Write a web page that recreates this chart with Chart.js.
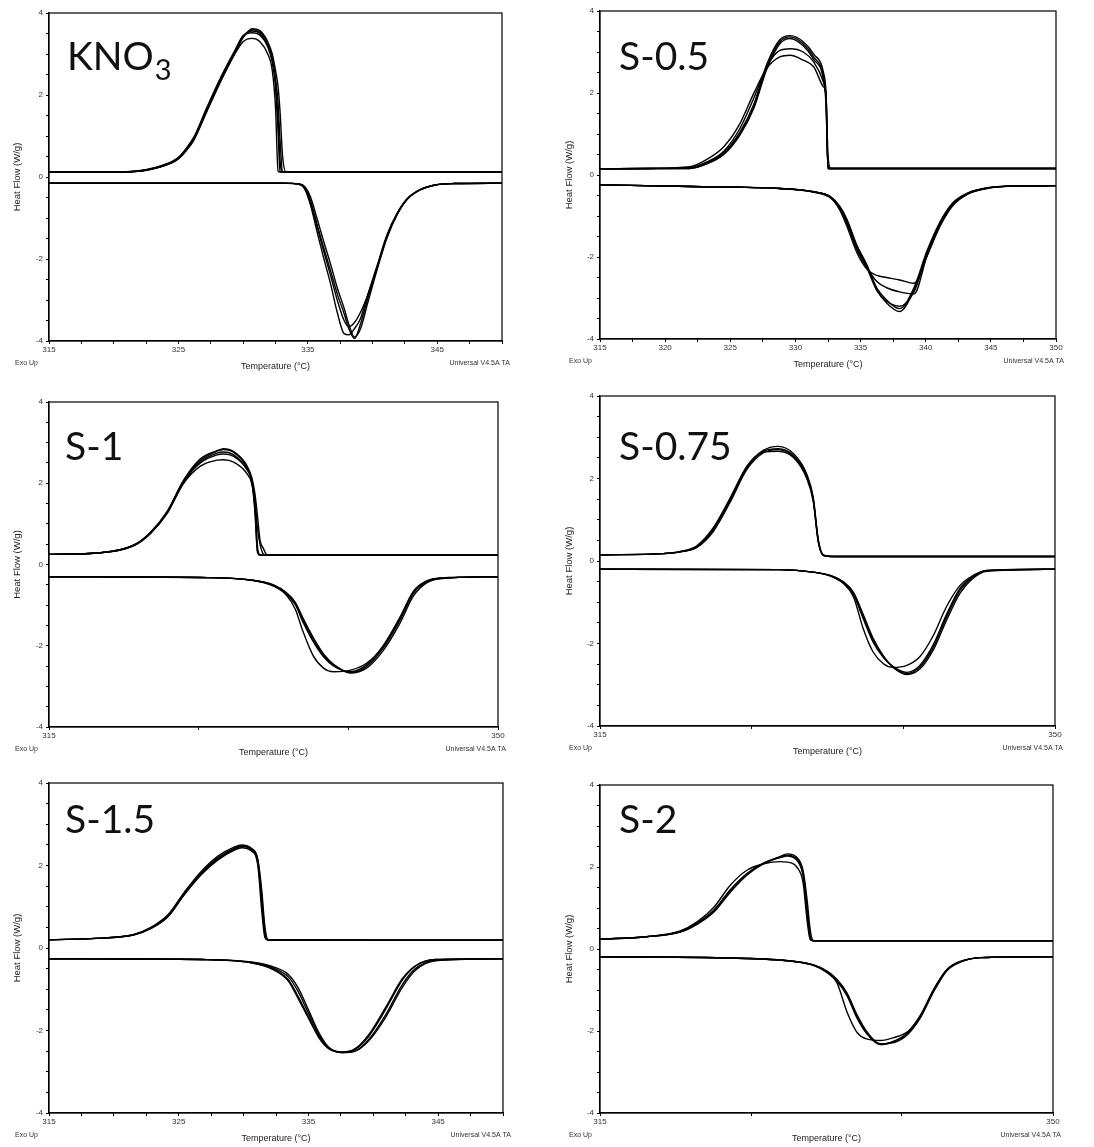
<!DOCTYPE html>
<html>
<head>
<meta charset="utf-8">
<title>DSC ciclos térmicos</title>
<script src="https://cdn.jsdelivr.net/npm/chart.js@4.4.1/dist/chart.umd.min.js"></script>
<style>
  body { margin: 0; background: #fff; }
  #grid { position: relative; width: 1094px; height: 1147px; }
  #grid canvas { position: absolute; }
</style>
</head>
<body>
<div id="grid"></div>
<script>
// Temperaturas (°C) y flujo de calor (W/g) de cada ciclo. Exo = enfriamiento, Endo = calentamiento.

// KNO3
const kno3ExoT = [315, 320, 322.3, 323.6, 324.4, 325, 325.6, 326.2, 327.2, 328.25, 329.3, 330, 330.7, 331.3, 331.9, 332.25, 332.5, 332.7, 332.85, 333.05, 333.3, 340, 350];
const kno3Exo = [
    [0.12, 0.12, 0.16, 0.25, 0.34, 0.45, 0.66, 0.93, 1.63, 2.36, 3.0, 3.41, 3.59, 3.54, 3.22, 2.85, 2.2, 1.1, 0.14, 0.12, 0.12, 0.12, 0.12],
    [0.12, 0.12, 0.17, 0.27, 0.36, 0.48, 0.7, 0.98, 1.7, 2.42, 3.05, 3.44, 3.56, 3.5, 3.2, 2.9, 2.4, 1.8, 0.9, 0.13, 0.12, 0.12, 0.12],
    [0.12, 0.12, 0.16, 0.26, 0.35, 0.47, 0.68, 0.95, 1.66, 2.35, 2.97, 3.3, 3.38, 3.3, 3.0, 2.6, 1.7, 0.14, 0.12, 0.12, 0.12, 0.12, 0.12],
    [0.12, 0.12, 0.15, 0.24, 0.33, 0.44, 0.64, 0.9, 1.6, 2.32, 2.98, 3.4, 3.62, 3.57, 3.3, 3.0, 2.6, 2.2, 1.6, 0.5, 0.13, 0.12, 0.12],
    [0.12, 0.12, 0.16, 0.25, 0.34, 0.46, 0.67, 0.94, 1.65, 2.38, 3.02, 3.45, 3.52, 3.46, 3.18, 2.8, 2.3, 1.4, 0.4, 0.13, 0.12, 0.12, 0.12]
];
const kno3EndoT = [315, 325, 333, 334.4, 334.8, 335.2, 335.7, 336.2, 336.75, 337.27, 337.8, 338.17, 338.6, 339.07, 339.6, 340.36, 341.1, 341.9, 342.7, 343.7, 344.74, 346.3, 350];
const kno3Endo = [
    [-0.15, -0.15, -0.15, -0.18, -0.28, -0.57, -1.14, -1.7, -2.28, -2.85, -3.33, -3.7, -3.94, -3.58, -3.0, -2.2, -1.46, -0.9, -0.53, -0.31, -0.2, -0.16, -0.15],
    [-0.15, -0.15, -0.15, -0.17, -0.25, -0.48, -1.0, -1.55, -2.12, -2.7, -3.2, -3.6, -3.9, -3.7, -3.1, -2.25, -1.5, -0.92, -0.54, -0.31, -0.2, -0.16, -0.15],
    [-0.15, -0.15, -0.15, -0.19, -0.32, -0.68, -1.32, -1.95, -2.6, -3.3, -3.82, -3.85, -3.7, -3.45, -2.9, -2.15, -1.42, -0.88, -0.52, -0.3, -0.2, -0.16, -0.15],
    [-0.15, -0.15, -0.15, -0.18, -0.3, -0.62, -1.2, -1.78, -2.4, -3.0, -3.5, -3.65, -3.55, -3.3, -2.9, -2.2, -1.45, -0.9, -0.53, -0.31, -0.2, -0.16, -0.15]
];

// S-0.5
const s05ExoT = [315, 319, 321.9, 323.2, 324.5, 325.75, 326.8, 327.8, 328.8, 329.6, 330.6, 331.4, 332.15, 332.35, 332.5, 332.7, 340, 350];
const s05Exo = [
    [0.15, 0.16, 0.16, 0.28, 0.51, 1.01, 1.66, 2.64, 3.25, 3.37, 3.2, 2.88, 2.39, 1.83, 0.16, 0.16, 0.16, 0.16],
    [0.15, 0.16, 0.17, 0.3, 0.54, 1.05, 1.72, 2.7, 3.3, 3.4, 3.25, 2.95, 2.5, 2.0, 0.5, 0.16, 0.16, 0.16],
    [0.15, 0.16, 0.16, 0.27, 0.5, 0.98, 1.62, 2.58, 3.2, 3.33, 3.15, 2.82, 2.32, 1.7, 0.16, 0.16, 0.16, 0.16],
    [0.15, 0.16, 0.2, 0.38, 0.69, 1.26, 1.99, 2.6, 2.88, 2.92, 2.8, 2.64, 2.15, 1.95, 0.16, 0.16, 0.16, 0.16],
    [0.15, 0.16, 0.18, 0.32, 0.58, 1.14, 1.87, 2.64, 3.04, 3.08, 3.0, 2.76, 2.27, 1.9, 0.16, 0.16, 0.16, 0.16]
];
const s05EndoT = [315, 322, 328.8, 331.4, 332.7, 333.4, 333.95, 334.7, 335.5, 336.25, 337, 338, 339.1, 340.1, 341.1, 342.1, 343.2, 344.7, 346.75, 350];
const s05Endo = [
    [-0.24, -0.28, -0.33, -0.41, -0.53, -0.77, -1.1, -1.74, -2.23, -2.8, -3.12, -3.33, -2.8, -1.9, -1.18, -0.69, -0.45, -0.32, -0.27, -0.26],
    [-0.24, -0.28, -0.33, -0.41, -0.54, -0.8, -1.15, -1.8, -2.28, -2.82, -3.08, -3.2, -2.85, -1.95, -1.22, -0.72, -0.46, -0.32, -0.27, -0.26],
    [-0.24, -0.28, -0.33, -0.41, -0.53, -0.76, -1.08, -1.7, -2.2, -2.76, -3.05, -3.26, -2.75, -1.85, -1.14, -0.67, -0.44, -0.31, -0.27, -0.26],
    [-0.24, -0.28, -0.33, -0.42, -0.56, -0.85, -1.25, -1.88, -2.3, -2.45, -2.5, -2.56, -2.64, -1.98, -1.25, -0.74, -0.47, -0.33, -0.27, -0.26],
    [-0.24, -0.28, -0.33, -0.41, -0.55, -0.82, -1.18, -1.8, -2.26, -2.6, -2.75, -2.85, -2.9, -1.97, -1.23, -0.72, -0.46, -0.32, -0.27, -0.26]
];

// S-1
const s1ExoT = [315, 319, 321.6, 322.9, 324.2, 325.5, 326.8, 328.1, 328.6, 329.4, 330.4, 330.8, 331.05, 331.25, 331.45, 331.7, 332, 340, 350];
const s1Exo = [
    [0.25, 0.29, 0.47, 0.78, 1.28, 2.07, 2.56, 2.79, 2.83, 2.76, 2.4, 2.05, 1.3, 0.3, 0.23, 0.23, 0.23, 0.23, 0.23],
    [0.25, 0.29, 0.46, 0.76, 1.25, 2.03, 2.52, 2.74, 2.77, 2.7, 2.36, 2.1, 1.6, 0.9, 0.5, 0.26, 0.23, 0.23, 0.23],
    [0.25, 0.29, 0.47, 0.77, 1.27, 2.0, 2.42, 2.57, 2.58, 2.52, 2.25, 2.0, 1.5, 0.45, 0.24, 0.23, 0.23, 0.23, 0.23],
    [0.25, 0.29, 0.48, 0.79, 1.3, 2.08, 2.6, 2.8, 2.85, 2.78, 2.45, 2.15, 1.75, 1.2, 0.6, 0.4, 0.24, 0.23, 0.23],
    [0.25, 0.29, 0.47, 0.77, 1.29, 2.05, 2.5, 2.7, 2.72, 2.66, 2.35, 2.05, 1.4, 0.35, 0.23, 0.23, 0.23, 0.23, 0.23]
];
const s1EndoT = [315, 326.8, 330.7, 332.5, 333.5, 334.2, 334.8, 335.6, 336.4, 337.2, 338.5, 339.75, 341.05, 342.35, 343.4, 344.4, 345.5, 350];
const s1Endo = [
    [-0.3, -0.32, -0.38, -0.51, -0.71, -0.96, -1.37, -1.86, -2.23, -2.47, -2.66, -2.51, -2.06, -1.37, -0.71, -0.43, -0.34, -0.3],
    [-0.3, -0.32, -0.38, -0.5, -0.69, -0.93, -1.32, -1.8, -2.2, -2.46, -2.67, -2.55, -2.12, -1.45, -0.78, -0.46, -0.35, -0.3],
    [-0.3, -0.32, -0.38, -0.52, -0.73, -0.99, -1.42, -1.9, -2.27, -2.5, -2.64, -2.47, -2.0, -1.3, -0.66, -0.41, -0.33, -0.3],
    [-0.3, -0.32, -0.38, -0.53, -0.75, -1.1, -1.65, -2.25, -2.55, -2.64, -2.6, -2.43, -2.02, -1.35, -0.7, -0.43, -0.34, -0.3]
];

// S-0.75
const s075ExoT = [315, 319.9, 321.15, 322.45, 323.7, 325, 326.3, 327.55, 328.7, 329.9, 330.9, 331.4, 331.8, 332.2, 333, 340, 350];
const s075Exo = [
    [0.15, 0.18, 0.22, 0.34, 0.74, 1.47, 2.28, 2.68, 2.78, 2.6, 2.11, 1.55, 0.5, 0.14, 0.11, 0.11, 0.11],
    [0.15, 0.18, 0.23, 0.37, 0.8, 1.52, 2.3, 2.66, 2.72, 2.55, 2.06, 1.5, 0.45, 0.13, 0.11, 0.11, 0.11],
    [0.15, 0.18, 0.22, 0.33, 0.71, 1.42, 2.22, 2.62, 2.7, 2.52, 2.05, 1.5, 0.48, 0.14, 0.11, 0.11, 0.11],
    [0.15, 0.18, 0.22, 0.35, 0.76, 1.48, 2.26, 2.64, 2.66, 2.5, 2.0, 1.45, 0.45, 0.13, 0.11, 0.11, 0.11]
];
const s075EndoT = [315, 328.85, 331.4, 332.7, 333.7, 334.5, 335.25, 336, 336.8, 337.55, 338.6, 339.6, 340.65, 341.65, 342.7, 343.7, 344.75, 350];
const s075Endo = [
    [-0.2, -0.21, -0.27, -0.35, -0.51, -0.79, -1.36, -1.92, -2.32, -2.57, -2.73, -2.57, -2.08, -1.36, -0.71, -0.39, -0.24, -0.2],
    [-0.2, -0.21, -0.27, -0.35, -0.5, -0.76, -1.3, -1.87, -2.3, -2.58, -2.75, -2.62, -2.15, -1.44, -0.78, -0.42, -0.25, -0.2],
    [-0.2, -0.21, -0.27, -0.36, -0.52, -0.81, -1.4, -1.96, -2.34, -2.56, -2.7, -2.53, -2.02, -1.3, -0.66, -0.37, -0.23, -0.2],
    [-0.2, -0.21, -0.27, -0.36, -0.54, -0.87, -1.64, -2.2, -2.49, -2.58, -2.53, -2.32, -1.8, -1.11, -0.59, -0.35, -0.23, -0.2]
];

// S-1.5
const s15ExoT = [315, 319, 321.55, 322.85, 324.15, 325.45, 326.75, 328, 329.3, 329.85, 330.6, 331.1, 331.4, 331.65, 331.9, 340, 350];
const s15Exo = [
    [0.2, 0.24, 0.32, 0.48, 0.77, 1.33, 1.82, 2.18, 2.42, 2.48, 2.38, 2.06, 1.09, 0.32, 0.19, 0.19, 0.19],
    [0.2, 0.24, 0.33, 0.5, 0.8, 1.36, 1.86, 2.22, 2.45, 2.5, 2.42, 2.15, 1.4, 0.5, 0.2, 0.19, 0.19],
    [0.2, 0.24, 0.32, 0.47, 0.75, 1.3, 1.78, 2.13, 2.37, 2.43, 2.35, 2.0, 0.9, 0.25, 0.19, 0.19, 0.19],
    [0.2, 0.24, 0.32, 0.48, 0.76, 1.31, 1.8, 2.16, 2.4, 2.46, 2.4, 2.12, 1.25, 0.4, 0.19, 0.19, 0.19]
];
const s15EndoT = [315, 326.75, 330.6, 332.4, 333.45, 334.2, 335, 335.8, 336.55, 337.6, 338.6, 339.65, 340.95, 342.25, 343.25, 344.8, 350];
const s15Endo = [
    [-0.26, -0.28, -0.36, -0.53, -0.77, -1.17, -1.66, -2.14, -2.42, -2.53, -2.46, -2.14, -1.49, -0.77, -0.44, -0.28, -0.26],
    [-0.26, -0.28, -0.35, -0.5, -0.7, -1.05, -1.58, -2.1, -2.42, -2.54, -2.5, -2.22, -1.62, -0.88, -0.5, -0.3, -0.26],
    [-0.26, -0.28, -0.34, -0.47, -0.64, -0.96, -1.5, -2.05, -2.4, -2.53, -2.5, -2.25, -1.68, -0.95, -0.54, -0.31, -0.26],
    [-0.26, -0.28, -0.36, -0.54, -0.8, -1.22, -1.7, -2.17, -2.44, -2.52, -2.44, -2.1, -1.44, -0.74, -0.43, -0.28, -0.26]
];

// S-2
const s2ExoT = [315, 318.6, 321.2, 322.5, 323.8, 325.05, 326.35, 327.65, 328.95, 329.45, 330.2, 330.7, 331, 331.25, 331.5, 340, 350];
const s2Exo = [
    [0.24, 0.3, 0.42, 0.63, 0.95, 1.44, 1.84, 2.09, 2.23, 2.27, 2.17, 1.76, 0.87, 0.26, 0.2, 0.2, 0.2],
    [0.24, 0.3, 0.41, 0.6, 0.9, 1.38, 1.8, 2.08, 2.26, 2.32, 2.24, 1.9, 1.2, 0.45, 0.2, 0.2, 0.2],
    [0.24, 0.3, 0.42, 0.62, 0.93, 1.42, 1.83, 2.1, 2.25, 2.29, 2.2, 1.82, 1.0, 0.3, 0.2, 0.2, 0.2],
    [0.24, 0.3, 0.44, 0.66, 1.02, 1.55, 1.92, 2.08, 2.13, 2.12, 2.0, 1.6, 0.7, 0.22, 0.2, 0.2, 0.2]
];
const s2EndoT = [315, 326.35, 330.2, 331.5, 332.55, 333.3, 334.1, 334.85, 335.65, 336.65, 337.7, 338.75, 339.75, 340.8, 341.8, 342.85, 344.4, 350];
const s2Endo = [
    [-0.19, -0.23, -0.31, -0.39, -0.55, -0.76, -1.12, -1.65, -2.06, -2.32, -2.26, -2.06, -1.65, -1.0, -0.51, -0.31, -0.21, -0.19],
    [-0.19, -0.23, -0.31, -0.39, -0.54, -0.74, -1.08, -1.6, -2.03, -2.31, -2.28, -2.09, -1.68, -1.03, -0.53, -0.32, -0.21, -0.19],
    [-0.19, -0.23, -0.31, -0.4, -0.56, -0.78, -1.15, -1.68, -2.08, -2.33, -2.25, -2.04, -1.62, -0.97, -0.5, -0.3, -0.21, -0.19],
    [-0.19, -0.23, -0.31, -0.4, -0.58, -0.82, -1.55, -2.03, -2.2, -2.23, -2.16, -2.02, -1.63, -0.99, -0.51, -0.31, -0.21, -0.19]
];

// caja del canvas y área de trazado (px de página) de cada panel
const paneles = [
    { nombre: 'KNO', sub: '3', exoT: kno3ExoT, exo: kno3Exo, endoT: kno3EndoT, endo: kno3Endo, ejeX: 'cada10',
      caja: { x: 0, y: 0, w: 547, h: 380 }, area: { l: 49, t: 13, r: 502, b: 341 }, etq: { dx: 18, dy: 57 } },
    { nombre: 'S-0.5', exoT: s05ExoT, exo: s05Exo, endoT: s05EndoT, endo: s05Endo, ejeX: 'cada5',
      caja: { x: 547, y: 0, w: 547, h: 380 }, area: { l: 600, t: 11, r: 1056, b: 339 }, etq: { dx: 19, dy: 59 } },
    { nombre: 'S-1', exoT: s1ExoT, exo: s1Exo, endoT: s1EndoT, endo: s1Endo, ejeX: 'tercios',
      caja: { x: 0, y: 380, w: 547, h: 390 }, area: { l: 49, t: 402, r: 498, b: 727 }, etq: { dx: 16, dy: 58 } },
    { nombre: 'S-0.75', exoT: s075ExoT, exo: s075Exo, endoT: s075EndoT, endo: s075Endo, ejeX: 'tercios',
      caja: { x: 547, y: 380, w: 547, h: 390 }, area: { l: 600, t: 396, r: 1055, b: 726 }, etq: { dx: 19, dy: 64 } },
    { nombre: 'S-1.5', exoT: s15ExoT, exo: s15Exo, endoT: s15EndoT, endo: s15Endo, ejeX: 'cada10',
      caja: { x: 0, y: 770, w: 547, h: 377 }, area: { l: 49, t: 783, r: 503, b: 1113 }, etq: { dx: 16, dy: 50 } },
    { nombre: 'S-2', exoT: s2ExoT, exo: s2Exo, endoT: s2EndoT, endo: s2Endo, ejeX: 'tercios',
      caja: { x: 547, y: 770, w: 547, h: 377 }, area: { l: 600, t: 785, r: 1053, b: 1113 }, etq: { dx: 19, dy: 48 } }
];

const FUENTE = '"Liberation Sans", Arial, sans-serif';

// marco, pies de página y nombre de la muestra
const marcoPlugin = {
    id: 'marco',
    afterDraw(chart, args, opts) {
        const { ctx, chartArea: a } = chart;
        ctx.save();
        ctx.strokeStyle = '#000';
        ctx.lineWidth = 1.2;
        ctx.strokeRect(a.left, a.top, a.right - a.left, a.bottom - a.top);

        ctx.fillStyle = '#333';
        ctx.font = '7px ' + FUENTE;
        ctx.textBaseline = 'middle';
        ctx.textAlign = 'left';
        ctx.fillText('Exo Up', opts.exoX, a.bottom + 22);
        ctx.textAlign = 'right';
        ctx.fillText('Universal V4.5A TA', a.right + 8, a.bottom + 22);

        ctx.fillStyle = '#111';
        ctx.textAlign = 'left';
        ctx.textBaseline = 'alphabetic';
        ctx.font = '39px Lato, "Open Sans", sans-serif';
        const x = a.left + opts.dx, y = a.top + opts.dy;
        ctx.fillText(opts.nombre, x, y);
        if (opts.sub) {
            const w = ctx.measureText(opts.nombre).width;
            ctx.font = '29px Lato, "Open Sans", sans-serif';
            ctx.fillText(opts.sub, x + w + 1, y + 10);
        }
        ctx.restore();
    }
};

function curvas(temps, ciclos) {
    return ciclos.map(vals => ({
        data: temps.map((t, i) => ({ x: t, y: vals[i] })),
        borderColor: '#000',
        borderWidth: 1.4,
        pointRadius: 0,
        cubicInterpolationMode: 'monotone',
        fill: false
    }));
}

function configEjeX(modo, alto, padTitulo) {
    const eje = {
        type: 'linear',
        min: 315,
        max: 350,
        afterFit: s => { s.height = alto; },
        grid: { drawOnChartArea: false, tickLength: 3, color: '#000' },
        border: { color: '#000', width: 1.2 },
        ticks: { autoSkip: false, maxRotation: 0, padding: 1, color: '#333', font: { family: FUENTE, size: 8 } },
        title: { display: true, text: 'Temperature (°C)', color: '#222',
                 font: { family: FUENTE, size: 9, lineHeight: 1 }, padding: { top: 0, bottom: padTitulo } }
    };
    if (modo === 'tercios') {
        eje.afterBuildTicks = s => { s.ticks = [315, 315 + 35 / 3, 315 + 70 / 3, 350].map(v => ({ value: v })); };
        eje.ticks.callback = v => (v === 315 || v === 350) ? String(v) : '';
    } else {
        const paso = modo === 'cada5' ? 5 : 10;
        eje.ticks.stepSize = 2.5;
        eje.ticks.callback = v => {
            const r = (v - 315) / paso;
            return Math.abs(r - Math.round(r)) < 1e-6 ? String(Math.round(v)) : '';
        };
    }
    return eje;
}

function dibujarPanel(p) {
    const canvas = document.createElement('canvas');
    canvas.width = p.caja.w;
    canvas.height = p.caja.h;
    canvas.style.left = p.caja.x + 'px';
    canvas.style.top = p.caja.y + 'px';
    document.getElementById('grid').appendChild(canvas);

    const anchoY = p.area.l - p.caja.x;
    const altoX = p.caja.y + p.caja.h - p.area.b;
    const padTituloX = (p.caja.y + p.caja.h) - (p.area.b + 26) - 4.5;
    const padTituloY = (p.caja.x === 0 ? 17 : 22) - 4.75;

    new Chart(canvas.getContext('2d'), {
        type: 'line',
        data: { datasets: [...curvas(p.exoT, p.exo), ...curvas(p.endoT, p.endo)] },
        options: {
            responsive: false,
            animation: false,
            layout: { padding: { left: 0, top: p.area.t - p.caja.y, right: p.caja.x + p.caja.w - p.area.r, bottom: 0 } },
            scales: {
                x: configEjeX(p.ejeX, altoX, padTituloX),
                y: {
                    min: -4,
                    max: 4,
                    afterFit: s => { s.width = anchoY; },
                    grid: { drawOnChartArea: false, tickLength: 3, color: '#000' },
                    border: { color: '#000', width: 1.2 },
                    ticks: {
                        stepSize: 0.5, autoSkip: false, padding: 3, color: '#333',
                        font: { family: FUENTE, size: 8 },
                        callback: v => (Math.abs(v / 2 - Math.round(v / 2)) < 1e-6 ? String(v) : '')
                    },
                    title: { display: true, text: 'Heat Flow (W/g)', color: '#222',
                             font: { family: FUENTE, size: 9.5, lineHeight: 1 }, padding: { top: padTituloY, bottom: 0 } }
                }
            },
            plugins: {
                legend: { display: false },
                tooltip: { enabled: false },
                marco: { nombre: p.nombre, sub: p.sub, dx: p.etq.dx, dy: p.etq.dy, exoX: p.caja.x === 0 ? 15 : 22 }
            }
        },
        plugins: [marcoPlugin]
    });
}

document.addEventListener('DOMContentLoaded', () => paneles.forEach(dibujarPanel));
</script>
</body>
</html>
